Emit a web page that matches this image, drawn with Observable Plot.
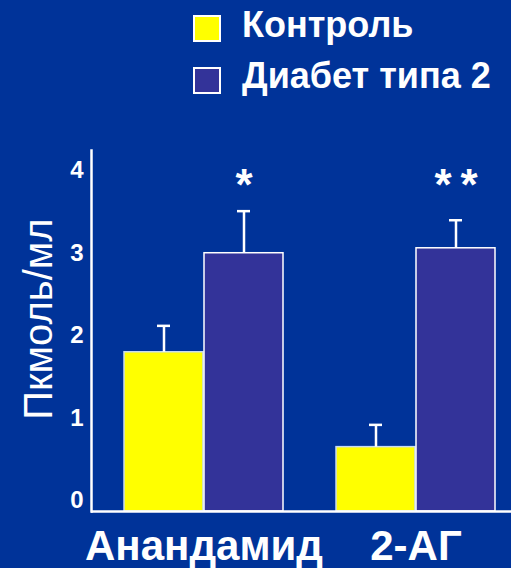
<!DOCTYPE html>
<html>
<head>
<meta charset="utf-8">
<script src="https://cdn.jsdelivr.net/npm/d3@7"></script>
<script src="https://cdn.jsdelivr.net/npm/@observablehq/plot@0.6"></script>
<style>
  html, body { margin: 0; padding: 0; background: #003399; }
  body { width: 511px; height: 568px; overflow: hidden; font-family: "Liberation Sans", Arial, sans-serif; color: white; }
  #legend { position: relative; height: 108px; }
  .sw { position: absolute; left: 193px; width: 28px; height: 27px; box-sizing: border-box; border: 2px solid white; }
  .lab { position: absolute; left: 242px; font-size: 36px; line-height: 36px; font-weight: bold; white-space: nowrap; }
  #chart svg { display: block; }
</style>
</head>
<body>
<div id="legend"></div>
<div id="chart"></div>
<script>
// Plasma endocannabinoid levels, pmol/ml (mean + error)
const groups = ["Анандамид", "2-АГ"];
const series = ["Контроль", "Диабет типа 2"];
const control = [1.93, 0.78];
const controlErr = [0.32, 0.27];
const diabetes = [3.13, 3.19];
const diabetesErr = [0.51, 0.34];
const stars = ["*", "*\u2009*"];
const yTicks = [0, 1, 2, 3, 4];
const yLabel = "Пкмоль/мл";
const colors = ["#ffff00", "#333399"];

const rows = groups.map((g, i) => ({
  group: g,
  control: control[i],
  controlTop: control[i] + controlErr[i],
  diabetes: diabetes[i],
  diabetesTop: diabetes[i] + diabetesErr[i],
  star: stars[i]
}));

// legend
const legend = document.getElementById("legend");
series.forEach((s, i) => {
  const sw = document.createElement("div");
  sw.className = "sw";
  sw.style.top = (15 + i * 52) + "px";
  sw.style.background = colors[i];
  legend.appendChild(sw);
  const lab = document.createElement("div");
  lab.className = "lab";
  lab.style.top = (7 + i * 51) + "px";
  lab.textContent = s;
  legend.appendChild(lab);
});

const chart = Plot.plot({
  width: 511,
  height: 460,
  marginLeft: 91,
  marginRight: 0,
  marginTop: 42,
  marginBottom: 57,
  style: { background: "transparent", color: "white", fontFamily: "Liberation Sans, Arial, sans-serif" },
  x: { domain: groups, paddingInner: 0.249, paddingOuter: 0.1127, align: 0.667, axis: null },
  y: { domain: [0, 4.375], axis: null },
  marks: [
    Plot.barY(rows, { x: "group", y: "control", fill: colors[0], stroke: "#c8dcf0", strokeWidth: 1.5, insetRight: 80 }),
    Plot.barY(rows, { x: "group", y: "diabetes", fill: colors[1], stroke: "white", strokeWidth: 1.5, insetLeft: 80 }),
    Plot.ruleX(rows, { x: "group", y1: "control", y2: "controlTop", dx: -40, stroke: "white", strokeWidth: 2.5 }),
    Plot.tickY(rows, { x: "group", y: "controlTop", insetLeft: 33, insetRight: 113, stroke: "white", strokeWidth: 2.5 }),
    Plot.ruleX(rows, { x: "group", y1: "diabetes", y2: "diabetesTop", dx: 40, stroke: "white", strokeWidth: 2.5 }),
    Plot.tickY(rows, { x: "group", y: "diabetesTop", insetLeft: 113, insetRight: 33, stroke: "white", strokeWidth: 2.5 }),
    Plot.text(rows, { x: "group", text: "star", frameAnchor: "top", lineAnchor: "top", dx: 40, dy: 18, fontSize: 44, fontWeight: "bold", fill: "white" }),
    Plot.ruleY([0], { stroke: "white", strokeWidth: 2.5 }),
    Plot.frame({ anchor: "left", stroke: "white", strokeWidth: 2.5 }),
    Plot.axisY({ ticks: yTicks, tickSize: 0, tickPadding: 8, dy: -11, fontSize: 24, fontWeight: "bold", label: null, tickFormat: d3.format("d") }),
    Plot.axisX({ tickSize: 0, tickPadding: 19, fontSize: 42, fontWeight: "bold", label: null }),
    Plot.text([yLabel], { frameAnchor: "left", textAnchor: "middle", rotate: -90, dx: -52, dy: -12, fontSize: 40, fill: "white" })
  ]
});
document.getElementById("chart").appendChild(chart);
</script>
</body>
</html>
